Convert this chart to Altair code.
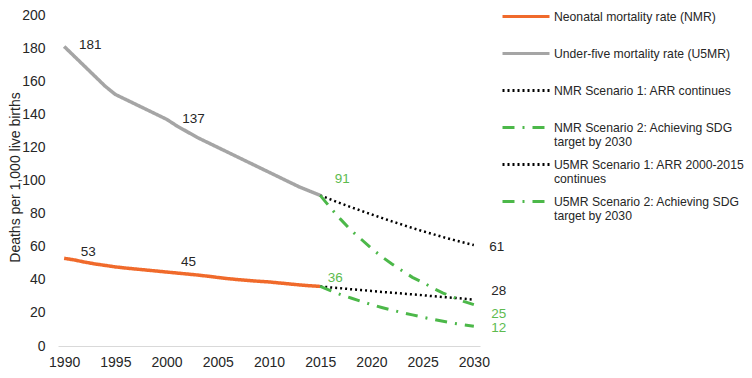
import altair as alt
import pandas as pd

# ---------------- data ----------------
YEARS_HIST = list(range(1990, 2016))
YEARS_PROJ = list(range(2015, 2031))

NMR = [53, 52, 50.7, 49.6, 48.7, 47.8, 47.1, 46.5, 45.9, 45.3, 44.7, 44.1, 43.5,
       42.9, 42.2, 41.4, 40.7, 40.1, 39.6, 39.1, 38.7, 38.1, 37.5, 36.9, 36.4, 36]
U5MR = [181, 175, 169, 163, 157, 152, 149, 146, 143, 140, 137, 133, 129.5,
        126, 123, 120, 117, 114, 111, 108, 105, 102, 99, 96, 93.5, 91]
NMR_S1 = [36, 35.4, 34.9, 34.3, 33.8, 33.3, 32.7, 32.2, 31.7, 31.2, 30.7, 30.1,
          29.6, 29.1, 28.6, 28]
NMR_S2 = [36, 33.5, 31, 29, 27, 25, 23.3, 21.7, 20.2, 18.8, 17.4, 16.1, 14.9,
          13.8, 12.8, 12]
U5MR_S1 = [91, 88.6, 86.2, 83.9, 81.7, 79.5, 77.4, 75.3, 73.3, 71.3, 69.4, 67.6,
           65.8, 64.1, 62.5, 61]
U5MR_S2 = [91, 83.5, 76.5, 70, 64.5, 59, 54, 49.5, 45.5, 41.5, 38.5, 35, 32,
           29.5, 27, 25]

SERIES = [
    "Neonatal mortality rate (NMR)",
    "Under-five mortality rate (U5MR)",
    "NMR Scenario 1: ARR continues",
    "NMR Scenario 2: Achieving SDG target by 2030",
    "U5MR Scenario 1: ARR 2000-2015 continues",
    "U5MR Scenario 2: Achieving SDG target by 2030",
]
LEGEND_LINES = {
    SERIES[3]: ["NMR Scenario 2: Achieving SDG", "target by 2030"],
    SERIES[4]: ["U5MR Scenario 1: ARR 2000-2015", "continues"],
    SERIES[5]: ["U5MR Scenario 2: Achieving SDG", "target by 2030"],
}

# value labels: (series, year) pairs whose value is printed
LABEL_POINTS = [
    (SERIES[1], 1990), (SERIES[0], 1990),
    (SERIES[1], 2000), (SERIES[0], 2000),
    (SERIES[5], 2015), (SERIES[3], 2015),
    (SERIES[4], 2030), (SERIES[2], 2030),
    (SERIES[5], 2030), (SERIES[3], 2030),
]

# ---------------- styles ----------------
ORANGE = "#F06A2B"
GRAY = "#A5A5A5"
GREEN = "#4CB849"
GREEN_TXT = "#5DBB4F"
BLACK = "#000000"
TXT = "#262626"
FONT = "Liberation Sans"

COLORS = [ORANGE, GRAY, BLACK, GREEN, BLACK, GREEN]
DASHES = [[1, 0], [1, 0], [2, 3], [12, 8, 2, 8], [2, 3], [12, 8, 2, 8]]

# offsets (dx, dy, colour) for each value label, same order as LABEL_POINTS
LABEL_STYLE = [
    (26, -1, TXT), (24, -6, TXT),
    (27, 0, TXT), (22, -10, TXT),
    (22, -16, GREEN_TXT), (15, -8, GREEN_TXT),
    (23, 2, TXT), (25, -9, TXT),
    (25, 9, GREEN_TXT), (25, 2, GREEN_TXT),
]

# ---------------- build table ----------------
rows = []
for s, yrs, vals in [
    (SERIES[0], YEARS_HIST, NMR),
    (SERIES[1], YEARS_HIST, U5MR),
    (SERIES[2], YEARS_PROJ, NMR_S1),
    (SERIES[3], YEARS_PROJ, NMR_S2),
    (SERIES[4], YEARS_PROJ, U5MR_S1),
    (SERIES[5], YEARS_PROJ, U5MR_S2),
]:
    for y, v in zip(yrs, vals):
        rows.append({"series": s, "year": y, "value": v})
df = pd.DataFrame(rows)

# legend label expression (2-line labels so every entry has equal height)
expr = ""
for name, (l1, l2) in LEGEND_LINES.items():
    expr += f"datum.label == '{name}' ? ['{l1}', '{l2}'] : "
expr += "[datum.label, '']"

# legend symbol: nominal size 20px, drawn as a 47px horizontal stroke
SYM = 20
SYM_LEN = 47
SYM_OFF = (SYM_LEN - SYM) / 2
legend = alt.Legend(
    title=None, orient="none", legendX=443, legendY=-10,
    labelExpr=expr, labelLimit=330, labelFontSize=12.2, labelFont=FONT,
    labelColor=TXT, labelOffset=SYM_LEN + 3 - SYM - SYM_OFF,
    symbolSize=SYM * SYM, symbolStrokeWidth=3,
    symbolOffset=SYM_OFF,
    symbolType=f"M-{SYM_LEN / SYM:.3f},0L{SYM_LEN / SYM:.3f},0",
    rowPadding=5, padding=0,
)

x_enc = alt.X(
    "year:Q",
    scale=alt.Scale(domain=[1989.4, 2030.6], nice=False, zero=False),
    axis=alt.Axis(values=list(range(1990, 2031, 5)), format="d", title=None,
                  ticks=False, tickSize=0, labelPadding=9, grid=False,
                  domainColor="#D9D9D9", domainWidth=1, labelFontSize=14,
                  labelColor=TXT, labelFont=FONT, labelOverlap=False),
)
y_enc = alt.Y(
    "value:Q",
    scale=alt.Scale(domain=[0, 200], nice=False),
    axis=alt.Axis(values=list(range(0, 201, 20)),
                  title="Deaths per 1,000 live births", domain=False,
                  ticks=False, tickSize=0, labelPadding=13, grid=False,
                  labelFontSize=14, labelColor=TXT, labelFont=FONT,
                  labelOverlap=False,
                  titleX=-43, titleY=162, titleAngle=270, titleAlign="center",
                  titleBaseline="middle", titleFontSize=14,
                  titleFontWeight="normal", titleColor=TXT, titleFont=FONT),
)
color_enc = alt.Color("series:N", scale=alt.Scale(domain=SERIES, range=COLORS),
                      legend=legend)
dash_enc = alt.StrokeDash("series:N",
                          scale=alt.Scale(domain=SERIES, range=DASHES),
                          legend=legend)

base = alt.Chart(df).encode(x=x_enc, y=y_enc, color=color_enc,
                            strokeDash=dash_enc)

solid = base.transform_filter(
    alt.FieldOneOfPredicate(field="series", oneOf=SERIES[0:2])
).mark_line(strokeWidth=3.5)
dotted = base.transform_filter(
    alt.FieldOneOfPredicate(field="series", oneOf=[SERIES[2], SERIES[4]])
).mark_line(strokeWidth=2.5, strokeCap="butt")
dashdot = base.transform_filter(
    alt.FieldOneOfPredicate(field="series", oneOf=[SERIES[3], SERIES[5]])
).mark_line(strokeWidth=3, strokeCap="butt")

layers = [solid, dotted, dashdot]
for (s, yr), (dx, dy, col) in zip(LABEL_POINTS, LABEL_STYLE):
    lab = (
        alt.Chart(df)
        .transform_filter((alt.datum.series == s) & (alt.datum.year == yr))
        .transform_calculate(txt="format(datum.value, '.0f')")
        .mark_text(dx=dx, dy=dy, color=col, fontSize=13.5, font=FONT,
                   align="center", baseline="middle")
        .encode(x=x_enc, y=y_enc, text="txt:N")
    )
    layers.append(lab)

chart = (
    alt.layer(*layers)
    .properties(
        width=422, height=331,
        autosize=alt.AutoSizeParams(type="none"),
        padding={"left": 50, "top": 7, "right": 264, "bottom": 24},
        background="white",
    )
    .configure_view(stroke="transparent")
)

chart.save("out.html", embed_options={"renderer": "svg", "actions": False})
